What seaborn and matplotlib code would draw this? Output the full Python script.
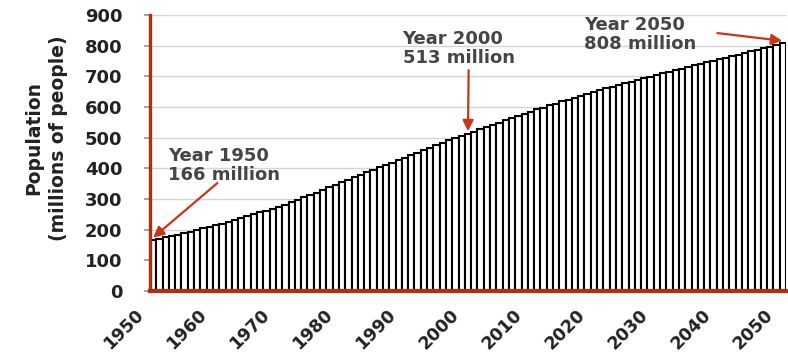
import matplotlib
matplotlib.use("Agg")
import matplotlib.pyplot as plt
import matplotlib.transforms as mtransforms
import seaborn as sns
import pandas as pd

# ---- data ----
years = list(range(1950, 2051))
population = [
    166, 170, 175, 179, 184, 189, 194, 199, 204, 209,
    215, 220, 226, 232, 238, 244, 250, 256, 262, 268,
    275, 282, 289, 297, 305, 313, 321, 330, 338, 346,
    355, 363, 371, 379, 387, 395, 403, 411, 419, 427,
    435, 443, 451, 459, 467, 475, 483, 491, 498, 506,
    513, 520, 527, 535, 542, 549, 556, 563, 570, 578,
    585, 592, 598, 605, 611, 618, 624, 630, 637, 643,
    650, 655, 661, 666, 672, 677, 683, 688, 694, 699,
    704, 710, 715, 720, 725, 731, 736, 741, 746, 751,
    756, 761, 766, 771, 776, 781, 786, 791, 797, 803,
    808,
]
tick_years = list(range(1950, 2051, 10))
y_ticks = list(range(0, 901, 100))
annot_years = [1950, 2000, 2050]
annot_labels = ["Year 1950\n166 million", "Year 2000\n513 million", "Year 2050\n808 million"]

df = pd.DataFrame({"year": years, "population": population})

sns.set_theme(style="white")
plt.rcParams["font.family"] = ["DejaVu Sans"]

fig = plt.figure(figsize=(7.88, 3.52), dpi=100)
ax = fig.add_axes([150 / 788, 1 - 291 / 352, (786 - 150) / 788, (291 - 15) / 352])

sns.barplot(data=df, x="year", y="population", color="white", saturation=1,
            edgecolor="black", linewidth=1.5, width=1.0, ax=ax)

ax.set_xlim(-0.5, 100.5)
ax.set_ylim(0, 900)
ax.set_yticks(y_ticks)
ax.set_yticklabels([str(v) for v in y_ticks], fontsize=13, fontweight="bold", color="#222222")
ax.set_xticks([years.index(y) for y in tick_years])
ax.set_xticklabels([str(y) for y in tick_years], fontsize=12.5, fontweight="bold",
                   rotation=45, ha="right", va="center", rotation_mode="anchor", color="#222222")
ax.tick_params(axis="x", length=0, pad=15)
ax.tick_params(axis="y", length=4, color="#999999", pad=16, left=True)
offset = mtransforms.ScaledTranslation(-12 / 100, 0, fig.dpi_scale_trans)
for lbl in ax.get_xticklabels():
    lbl.set_transform(lbl.get_transform() + offset)
ax.set_xlabel("")
ax.set_ylabel("")

ax.yaxis.grid(True, color="#d4d4d4", lw=1.0)
ax.set_axisbelow(True)

red = "#b32e0d"
for s in ["top", "right"]:
    ax.spines[s].set_visible(False)
ax.spines["left"].set_color(red)
ax.spines["left"].set_linewidth(2.4)
ax.spines["bottom"].set_color(red)
ax.spines["bottom"].set_linewidth(3.0)

fig.text(46 / 788, 1 - 138 / 352, "Population\n(millions of people)", rotation=90,
         ha="center", va="center", multialignment="center", fontsize=13.5,
         fontweight="bold", color="#222222", linespacing=1.4)

# annotations
arrow_red = "#c8351a"
text_pos = [(2.3, 470), (39.6, 851), (68.4, 897)]
tail_pos = [(10.2, 352), (50.1, 720), (89.6, 841)]
for yr, lab, tp, tl in zip(annot_years, annot_labels, text_pos, tail_pos):
    i = years.index(yr)
    v = population[i]
    ax.text(tp[0], tp[1], lab, ha="left", va="top", fontsize=13, fontweight="bold",
            color="#454545", linespacing=1.05)
    tip_x = min(max(i, 0.0), 99.9)
    ax.annotate("", xy=(tip_x, v + 8), xytext=tl,
                arrowprops=dict(arrowstyle="-|>", color=arrow_red, lw=1.6,
                                mutation_scale=16, shrinkA=0, shrinkB=0),
                annotation_clip=False)

fig.savefig("out.png", dpi=100, facecolor="white")
